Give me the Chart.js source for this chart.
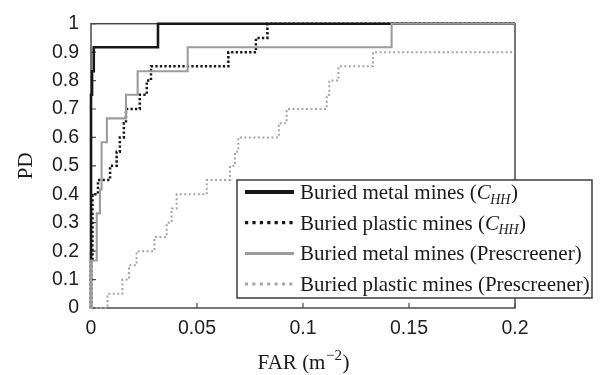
<!DOCTYPE html>
<html>
<head>
<meta charset="utf-8">
<title>ROC curves: buried mines</title>
<style>
  html, body { margin: 0; padding: 0; background: #ffffff; }
  #wrap { position: relative; width: 600px; height: 375px; }
</style>
<script src="https://cdn.jsdelivr.net/npm/chart.js@4/dist/chart.umd.min.js"></script>
</head>
<body>
<div id="wrap"><canvas id="roc" width="600" height="375"></canvas></div>
<script>
// ROC operating points: false-alarm rate at which PD steps up, and the PD reached there.
const metalChhFar = [0, 0, 0.0005, 0.0013, 0.0316, 0.2];
const metalChhPd  = [0, 0.75, 0.833, 0.917, 1, 1];

const plasticChhFar = [0, 0, 0.0007, 0.0033, 0.009, 0.0121, 0.0136, 0.0155, 0.0165, 0.023, 0.0263, 0.0283, 0.0648, 0.0778, 0.0832, 0.2];
const plasticChhPd  = [0, 0.167, 0.40, 0.45, 0.50, 0.55, 0.60, 0.65, 0.70, 0.75, 0.80, 0.85, 0.90, 0.95, 1, 1];

const metalPreFar = [0, 0, 0.0027, 0.0042, 0.005, 0.0075, 0.0165, 0.022, 0.0456, 0.1418, 0.2];
const metalPrePd  = [0, 0.167, 0.333, 0.417, 0.583, 0.667, 0.75, 0.833, 0.917, 1, 1];

const plasticPreFar = [0, 0.0078, 0.0148, 0.0179, 0.0215, 0.0299, 0.0357, 0.038, 0.0404, 0.0546, 0.0656, 0.0679, 0.0695, 0.0886, 0.0923, 0.1112, 0.1124, 0.1167, 0.133, 0.2];
const plasticPrePd  = [0, 0.05, 0.10, 0.15, 0.20, 0.25, 0.30, 0.35, 0.40, 0.45, 0.50, 0.55, 0.60, 0.65, 0.70, 0.75, 0.80, 0.85, 0.90, 0.90];

// Axis ticks
const xTickValues = [0, 0.05, 0.1, 0.15, 0.2];
const xTickLabels = ['0', '0.05', '0.1', '0.15', '0.2'];
const yTickValues = [0, 0.1, 0.2, 0.3, 0.4, 0.5, 0.6, 0.7, 0.8, 0.9, 1];
const yTickLabels = ['0', '0.1', '0.2', '0.3', '0.4', '0.5', '0.6', '0.7', '0.8', '0.9', '1'];

// Legend labels; "C_{HH}" is drawn as an italic C with an italic subscript.
const seriesLabels = [
  'Buried metal mines (C_{HH})',
  'Buried plastic mines (C_{HH})',
  'Buried metal mines (Prescreener)',
  'Buried plastic mines (Prescreener)'
];

// Turn jump points into a staircase: hold the previous PD until the next FAR, then rise.
function staircase(far, pd) {
  const pts = [{ x: far[0], y: pd[0] }];
  for (let i = 1; i < far.length; i++) {
    pts.push({ x: far[i], y: pd[i - 1] });
    pts.push({ x: far[i], y: pd[i] });
  }
  return pts;
}

const BLACK = '#161616';
const GREY = '#9c9c9c';
const AXIS = '#4a4a4a';

const seriesStyles = [
  { color: BLACK, width: 2.6, dash: [],         lw: 4,   ldash: [] },
  { color: BLACK, width: 2.5, dash: [2.3, 2.2], lw: 3.2, ldash: [3.2, 4.2] },
  { color: GREY,  width: 2.1, dash: [],         lw: 3,   ldash: [] },
  { color: '#a4a4a4', width: 2, dash: [2, 2.5], lw: 3,   ldash: [3, 4.4] }
];

const seriesData = [
  staircase(metalChhFar, metalChhPd),
  staircase(plasticChhFar, plasticChhPd),
  staircase(metalPreFar, metalPrePd),
  staircase(plasticPreFar, plasticPrePd)
];

// Later series are painted over earlier ones (lower order = on top).
const datasets = seriesData.map((d, i) => ({
  label: seriesLabels[i],
  data: d,
  borderColor: seriesStyles[i].color,
  borderWidth: seriesStyles[i].width,
  borderDash: seriesStyles[i].dash,
  borderCapStyle: 'butt',
  borderJoinStyle: 'miter',
  pointRadius: 0,
  fill: false,
  tension: 0,
  clip: 5,
  order: 4 - i
}));

const SANS = '"Liberation Sans", Arial, sans-serif';
const SERIF = '"Liberation Serif", "Times New Roman", serif';
const TEXT_SIZE = 21;

// Plot box and inward tick marks, under the curves.
const framePlugin = {
  id: 'frame',
  beforeDatasetsDraw(chart) {
    const { ctx, chartArea: a, scales } = chart;
    ctx.save();
    ctx.strokeStyle = AXIS;
    ctx.lineWidth = 1.5;
    ctx.strokeRect(a.left, a.top, a.right - a.left, a.bottom - a.top);
    ctx.lineWidth = 1.2;
    ctx.beginPath();
    xTickValues.forEach(v => {
      const px = scales.x.getPixelForValue(v);
      ctx.moveTo(px, a.bottom);
      ctx.lineTo(px, a.bottom - 5);
    });
    yTickValues.forEach(v => {
      const py = scales.y.getPixelForValue(v);
      ctx.moveTo(a.left, py);
      ctx.lineTo(a.left + 5, py);
    });
    ctx.stroke();
    ctx.restore();
  }
};

// Draw a label, rendering "X_{sub}" as italic X with italic subscript.
function drawRichText(ctx, text, x, y, size) {
  const parts = text.split(/([A-Za-z])_\{([^}]*)\}/);
  let cx = x;
  for (let i = 0; i < parts.length; i++) {
    const kind = i % 3;
    const s = parts[i];
    if (!s) continue;
    if (kind === 0) {
      ctx.font = size + 'px ' + SERIF;
      ctx.fillText(s, cx, y);
      cx += ctx.measureText(s).width;
    } else if (kind === 1) {
      ctx.font = 'italic ' + size + 'px ' + SERIF;
      ctx.fillText(s, cx, y);
      cx += ctx.measureText(s).width;
    } else {
      const sub = Math.round(size * 0.68);
      ctx.font = 'italic ' + sub + 'px ' + SERIF;
      ctx.fillText(s, cx - 0.5, y + size * 0.22);
      cx += ctx.measureText(s).width;
    }
  }
  return cx;
}

// Axis titles and the boxed legend.
const annotatePlugin = {
  id: 'annotate',
  afterDraw(chart) {
    const { ctx, chartArea: a } = chart;
    ctx.save();
    ctx.fillStyle = '#1a1a1a';
    ctx.textBaseline = 'alphabetic';
    ctx.textAlign = 'left';

    // y title
    ctx.save();
    ctx.translate(31.5, (a.top + a.bottom) / 2);
    ctx.rotate(-Math.PI / 2);
    ctx.textAlign = 'center';
    ctx.font = TEXT_SIZE + 'px ' + SERIF;
    ctx.fillText('PD', 0, 0);
    ctx.restore();

    // x title: FAR (m^-2)
    const big = TEXT_SIZE + 'px ' + SERIF, small = '15px ' + SERIF;
    ctx.font = big;
    const w1 = ctx.measureText('FAR (m').width;
    const w3 = ctx.measureText(')').width;
    ctx.font = small;
    const w2 = ctx.measureText('\u22122').width;
    let tx = (a.left + a.right) / 2 - (w1 + w2 + w3) / 2;
    const ty = 369;
    ctx.font = big;
    ctx.fillText('FAR (m', tx, ty);
    tx += w1;
    ctx.font = small;
    ctx.fillText('\u22122', tx + 0.5, ty - 9);
    tx += w2 + 1;
    ctx.font = big;
    ctx.fillText(')', tx, ty);

    // legend
    const box = { l: 237, t: 180, r: 592, b: 298 };
    ctx.fillStyle = '#ffffff';
    ctx.fillRect(box.l, box.t, box.r - box.l, box.b - box.t);
    ctx.strokeStyle = '#3c3c3c';
    ctx.lineWidth = 1.5;
    ctx.strokeRect(box.l, box.t, box.r - box.l, box.b - box.t);
    seriesLabels.forEach((label, i) => {
      const rowY = 192 + i * 30.7;
      const st = seriesStyles[i];
      ctx.save();
      ctx.strokeStyle = st.color;
      ctx.lineWidth = st.lw;
      ctx.lineCap = 'butt';
      ctx.setLineDash(st.ldash);
      ctx.beginPath();
      ctx.moveTo(245, rowY);
      ctx.lineTo(294, rowY);
      ctx.stroke();
      ctx.restore();
      ctx.fillStyle = '#1a1a1a';
      drawRichText(ctx, label, 300, rowY + 7, TEXT_SIZE);
    });
    ctx.restore();
  }
};

new Chart(document.getElementById('roc'), {
  type: 'line',
  data: { datasets },
  options: {
    responsive: false,
    animation: false,
    events: [],
    layout: { padding: { left: 0, right: 85, top: 14, bottom: 0 } },
    scales: {
      x: {
        type: 'linear',
        min: 0,
        max: 0.2,
        afterBuildTicks: s => { s.ticks = xTickValues.map(v => ({ value: v })); },
        afterFit: s => { s.height = 67; },
        grid: { display: false, drawTicks: false },
        border: { display: false },
        ticks: {
          autoSkip: false,
          maxRotation: 0,
          padding: 9,
          color: '#1e1e1e',
          font: { family: SANS, size: 19.5 },
          callback: (v, i) => xTickLabels[i]
        }
      },
      y: {
        type: 'linear',
        min: 0,
        max: 1,
        afterBuildTicks: s => { s.ticks = yTickValues.map(v => ({ value: v })); },
        afterFit: s => { s.width = 91; },
        grid: { display: false, drawTicks: false },
        border: { display: false },
        ticks: {
          autoSkip: false,
          padding: 12,
          color: '#1e1e1e',
          font: { family: SANS, size: 19.5 },
          callback: (v, i) => yTickLabels[i]
        }
      }
    },
    plugins: {
      legend: { display: false },
      tooltip: { enabled: false }
    }
  },
  plugins: [framePlugin, annotatePlugin]
});
</script>
</body>
</html>
